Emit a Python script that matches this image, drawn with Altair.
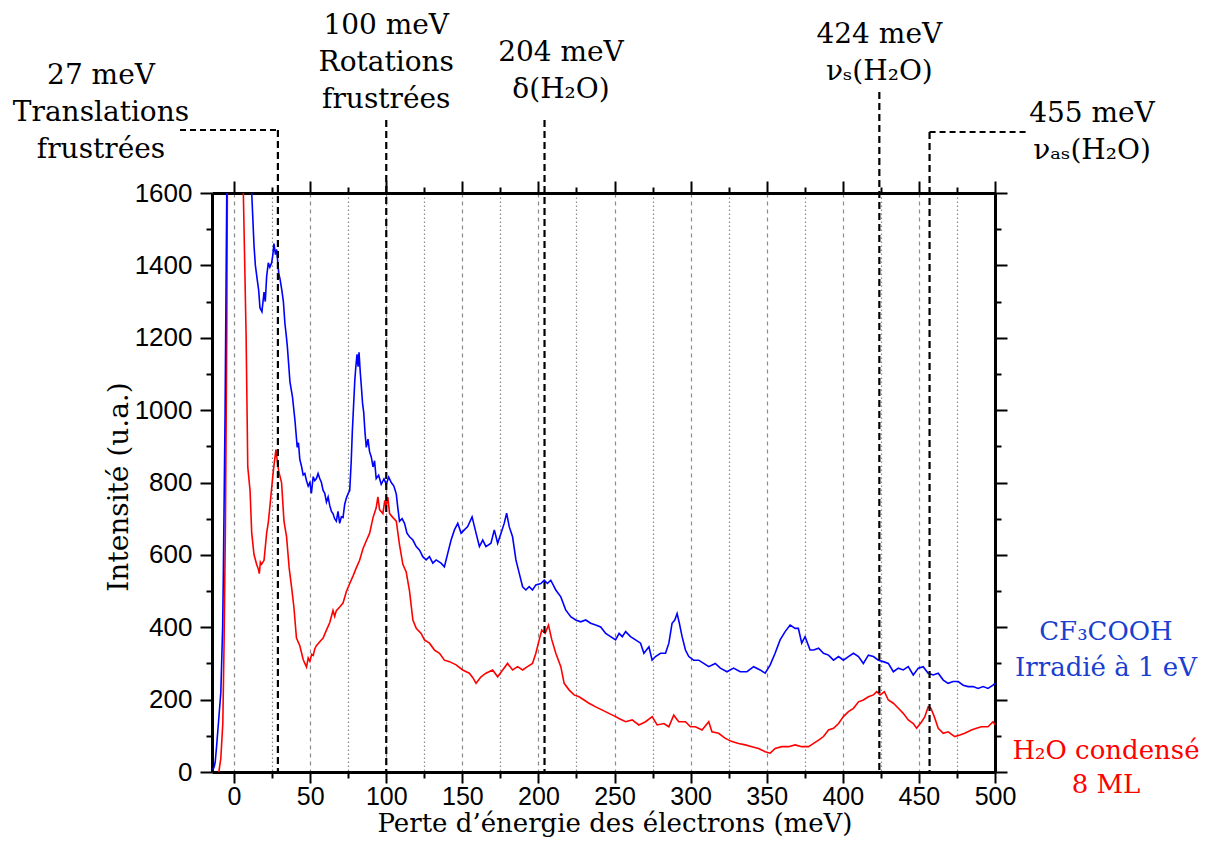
import altair as alt
import pandas as pd

# ---------------- data ----------------
# CF3COOH irradiated at 1 eV (blue) : rising edge of elastic peak, then loss spectrum
blue_rise_E = [-14, -13, -12.4, -11.5, -10.3, -8.7, -7.5, -7, -5.9, -4.8]
blue_rise_I = [5, 15, 27, 70, 134, 220, 400, 564, 993, 1600]

blue_E = [11.6, 13.1, 14, 15.3, 16.2, 17, 18.3, 19.7, 20.5, 21.4, 22.5, 23.5, 24.7, 25.5, 26.2, 27.2, 28,
          29.3, 30.3, 31.4, 32.4, 33.4, 34.2, 35, 36, 36.7, 38.4, 40, 41.5, 42.3, 43.2, 44.3, 45.4, 46.5,
          47.6, 48.7, 49.8, 50.8, 52, 53, 54.1, 55.2, 56.3, 57.4, 58.5, 59.6, 60.7, 61.8, 62.9, 64, 65,
          66.1, 67.2, 68.3, 69.4, 70.5, 71.6, 72.7, 73.8, 75, 76, 77, 77.7, 78.5, 79.3, 80, 80.8, 81.5,
          82.1, 83, 83.6, 84.4, 85.2, 86, 86.9, 88, 89, 90.2, 91.3, 92.3, 93.4, 95, 96.7, 98.5, 100,
          101.6, 103.3, 105, 106.6, 107.6, 108.7, 110.4, 112, 113.6, 115.3, 117.5, 119.7, 121.9, 124,
          126.2, 128.4, 130.6, 132.8, 136, 138.2, 140.4, 142.6, 144.8, 147, 149.2, 151.3, 153.5, 156.4,
          159, 161.2, 163.4, 165.5, 168.8, 171, 173.2, 175.4, 177.5, 179.1, 180.8, 183, 185.2, 187.4,
          189.6, 191.7, 193.9, 196.1, 198.3, 201.6, 203.8, 205.9, 208.1, 211.4, 214.7, 217.9, 221.2,
          224.5, 227.8, 231.1, 234.3, 237.6, 240.9, 244.2, 247.4, 250.7, 253, 255.1, 257.3, 260.5,
          263.8, 267.1, 269.3, 272.6, 274.7, 276.9, 280.2, 283.5, 285.7, 287.8, 289.6, 291.1, 292.6,
          294.4, 296.6, 298.8, 302, 305.3, 308.6, 311.9, 316.2, 319.5, 323.9, 328.2, 332.6, 337,
          341.4, 345.7, 349, 352.3, 355.5, 358.8, 362.1, 365.4, 368.7, 370.8, 373, 375.2, 378.5,
          380.8, 384.1, 387.3, 390.6, 393.9, 397.2, 400.4, 403.7, 407, 410.3, 413.5, 416.8, 420.1,
          423.4, 426.6, 429.9, 433.2, 436.5, 439.7, 443, 446.3, 449.6, 452.8, 456.1, 459.4, 462.7,
          466, 469.2, 472.5, 475.8, 479.1, 482.3, 485.6, 488.9, 492.2, 495.4, 498.7, 500]
blue_I = [1600, 1455, 1400, 1358, 1330, 1283, 1272, 1326, 1300, 1369, 1407, 1395, 1407, 1430, 1460, 1430, 1444,
          1380, 1360, 1331, 1300, 1240, 1210, 1176, 1120, 1079, 1036, 972, 897, 910, 864, 845, 821, 825,
          805, 790, 800, 770, 816, 805, 811, 825, 811, 800, 778, 770, 746, 760, 736, 720, 714,
          700, 693, 720, 687, 705, 703, 740, 757, 770, 778, 860, 940, 1010, 1079, 1120, 1154, 1120,
          1160, 1100, 1068, 1020, 993, 940, 897, 920, 886, 870, 843, 860, 811, 820, 795, 810, 795,
          815, 800, 790, 768, 730, 693, 700, 687, 660, 650, 641, 623, 613, 595,
          586, 595, 577, 586, 577, 567, 604, 641, 669, 687, 660, 669, 678, 705,
          660, 623, 641, 623, 632, 669, 632, 660, 687, 715, 678, 650, 586, 549,
          512, 503, 512, 503, 517, 521, 530, 521, 530, 503, 484, 448, 429,
          420, 415, 420, 411, 406, 401, 383, 374, 365, 383, 374, 388, 374,
          365, 356, 328, 346, 309, 319, 328, 328, 356, 411, 420, 438, 411,
          374, 337, 319, 309, 309, 300, 291, 300, 287, 277, 287, 277, 277,
          291, 282, 273, 296, 328, 365, 388, 406, 397, 397, 356, 374, 337,
          337, 342, 328, 323, 309, 319, 309, 319, 328, 319, 300, 323, 319,
          309, 305, 300, 277, 287, 282, 291, 268, 287, 291, 273, 268, 273,
          254, 245, 250, 250, 240, 236, 236, 231, 236, 231, 240, 245]

# condensed water, 8 ML (red)
red_rise_E = [-10, -9.5, -8.7, -7.4, -6.6, -5.7, -4.8, -4.4]
red_rise_I = [0, 15, 38, 134, 349, 671, 1208, 1600]

red_E = [6.1, 7.9, 9, 10.5, 11.6, 13.1, 14.8, 16, 16.6, 17.3, 18.1, 19.7, 21.4, 22.5, 23.6, 25.8, 27.5,
         28.4, 29.3, 30.3, 31.2, 32.8, 34.5, 36.2, 37.8, 39.3, 41, 43.2, 45.4, 46.5, 47.6, 48.7, 49.8,
         51, 52, 53, 54.1, 56.3, 58.5, 60.7, 62.9, 65, 66.1, 67.2, 69.4, 71.6, 73.8, 76, 78.2, 80.3,
         82.5, 84.7, 86.9, 89.1, 91.3, 93.4, 94.5, 95.6, 97.8, 99, 100, 101, 102.2, 104.4, 106.6,
         108.7, 110.9, 113.1, 115.3, 117.5, 119.7, 122.9, 125.1, 128.4, 131.7, 135, 138.2, 141.5,
         145.9, 150.2, 154.6, 157, 159, 162.3, 165.5, 169.9, 173.2, 176.5, 179.7, 183, 186.3, 189.6,
         192.8, 196.1, 198.3, 200.5, 202.2, 204.4, 206.6, 208.8, 211.4, 214.7, 216.9, 220.1, 223.4,
         226.7, 230, 233.2, 237.6, 242, 246.3, 250.7, 252.9, 257.3, 261.6, 266, 270.4, 274.7, 278,
         282.4, 285.7, 288.9, 292.2, 296.6, 299.9, 303.1, 307.5, 311.9, 314, 318.4, 322.8, 327.2,
         331.5, 335.9, 340.3, 344.6, 349, 352.3, 355.5, 359.9, 364.3, 368.7, 373, 377.5, 380.8,
         384.1, 387.3, 390.6, 393.9, 397.2, 400.4, 403.7, 407, 410.3, 413.5, 416.8, 420.1, 422.3,
         424.5, 427.3, 429.9, 433.2, 436.5, 439.7, 443, 446.3, 448.5, 451.8, 453.9, 456.1, 457.9,
         460.1, 462.7, 466, 469.2, 473.6, 476.9, 480.1, 484.5, 487.8, 491.1, 495.4, 498.7, 500]
red_I = [1600, 1208, 843, 778, 660, 601, 574, 560, 548, 580, 574, 585, 660, 690, 736, 832, 891,
         860, 832, 815, 800, 693, 650, 564, 510, 456, 370, 349, 311, 300, 290, 315, 306,
         325, 322, 340, 349, 360, 370, 392, 413, 446, 430, 446, 456, 467, 499, 521, 542, 564,
         585, 617, 639, 660, 703, 730, 760, 725, 714, 750, 736, 760, 714, 703, 693,
         628, 574, 553, 500, 420, 397, 383, 365, 356, 337, 328, 309, 305,
         296, 282, 273, 260, 245, 263, 273, 282, 263, 282, 300, 282, 291, 282,
         291, 300, 328, 365, 392, 383, 406, 365, 328, 291, 245, 227, 213,
         208, 199, 190, 180, 171, 162, 153, 148, 139, 144, 130, 139, 153, 130,
         134, 125, 157, 139, 139, 125, 125, 116, 139, 111, 107, 93, 84,
         79, 75, 70, 65, 56, 52, 65, 70, 70, 75, 70, 70, 79,
         88, 98, 116, 121, 134, 153, 167, 176, 194, 199, 208, 213, 222,
         213, 222, 199, 190, 176, 162, 144, 134, 121, 139, 153, 180, 176,
         153, 121, 107, 111, 98, 102, 107, 116, 121, 125, 125, 139, 130]

# vibrational assignments
mode_E = [28.8, 100, 204, 424, 457]
ann_lines = ["27 meV", "Translations", "frustrées",
             "100 meV", "Rotations", "frustrées",
             "204 meV", "δ(H₂O)",
             "424 meV", "νₛ(H₂O)",
             "455 meV", "νₐₛ(H₂O)"]
series_labels = ["CF₃COOH", "Irradié à 1 eV", "H₂O condensé", "8 ML"]
series_colors = ["#1a3fd0", "#1a3fd0", "#ff0000", "#ff0000"]

x_ticks = list(range(0, 501, 25))
y_ticks = list(range(0, 1601, 100))

# ---------------- layout helpers ----------------
W, H = 783, 579
PX_PER_MEV = W / 514.5
TOP = 193  # page y of the plot's top edge


def rel(page_y):
    return page_y - TOP


def mev(page_x):
    return (page_x - 212) / PX_PER_MEV - 14.5


rows = []
for name, seg, xs, ys in [("red", "r0", red_rise_E, red_rise_I), ("red", "r1", red_E, red_I),
                          ("blue", "b0", blue_rise_E, blue_rise_I), ("blue", "b1", blue_E, blue_I)]:
    for e, i in zip(xs, ys):
        rows.append({"serie": name, "seg": seg, "E": e, "I": i})
df = pd.DataFrame(rows)

xscale = alt.Scale(domain=[-14.5, 500], nice=False, zero=False)
yscale = alt.Scale(domain=[0, 1600], nice=False, zero=False)

cond50 = "datum.value % 50 === 0"
cond200 = "datum.value % 200 === 0"
common_axis = dict(tickWidth=2, tickColor="black", domainColor="black", domainWidth=3,
                   labelFont="Liberation Sans", labelColor="black",
                   labelFlush=False, labelOverlap=False, title=None, format="d")

x_bottom = alt.Axis(orient="bottom", values=x_ticks, labelExpr=f"{cond50} ? datum.label : ''",
                    tickSize={"condition": {"test": cond50, "value": 11}, "value": 6},
                    grid=True, gridColor="#8a8a8a", gridWidth=1.2,
                    gridDash={"condition": {"test": cond50, "value": [4, 4]}, "value": [1.5, 2.5]},
                    labelPadding=1, labelFontSize=25, **common_axis)
y_left = alt.Axis(orient="left", values=y_ticks, labelExpr=f"{cond200} ? datum.label : ''",
                  tickSize={"condition": {"test": cond200, "value": 12}, "value": 6},
                  grid=False, labelPadding=8, labelFontSize=26, **common_axis)
x_top = alt.Axis(orient="top", values=x_ticks, labels=False, grid=False,
                 tickSize={"condition": {"test": cond50, "value": 12}, "value": 6}, **common_axis)
y_right = alt.Axis(orient="right", values=y_ticks, labels=False, grid=False,
                   tickSize={"condition": {"test": cond200, "value": 12}, "value": 6}, **common_axis)

base = alt.Chart(df)

red = base.transform_filter("datum.serie == 'red'").mark_line(
    color="#ff0000", strokeWidth=1.6, clip=True).encode(
    x=alt.X("E:Q", scale=xscale, axis=x_bottom),
    y=alt.Y("I:Q", scale=yscale, axis=y_left),
    detail="seg:N", order="E:Q")

blue = base.transform_filter("datum.serie == 'blue'").mark_line(
    color="#0000ff", strokeWidth=1.6, clip=True).encode(
    x=alt.X("E:Q", scale=xscale, axis=None),
    y=alt.Y("I:Q", scale=yscale, axis=None),
    detail="seg:N", order="E:Q")

frame = base.mark_line(strokeOpacity=0).encode(
    x=alt.X("E:Q", scale=xscale, axis=x_top),
    y=alt.Y("I:Q", scale=yscale, axis=y_right),
    detail="seg:N")

# dashed guide lines for the modes
vtop = [rel(130), rel(120), rel(120), rel(92), rel(132)]
vdf = pd.DataFrame({"E": mode_E, "ytop": vtop, "ybot": [H] * len(mode_E)})
vrules = alt.Chart(vdf).mark_rule(color="black", strokeWidth=2.2, strokeDash=[7, 4]).encode(
    x=alt.X("E:Q", scale=xscale, axis=None),
    y=alt.Y("ytop:Q", scale=None, axis=None),
    y2="ybot:Q")

hdf = pd.DataFrame({"E": [mev(180), mode_E[4]], "E2": [mode_E[0], mev(1028)],
                    "y": [rel(130), rel(132)]})
hrules = alt.Chart(hdf).mark_rule(color="black", strokeWidth=2, strokeDash=[6, 4]).encode(
    x=alt.X("E:Q", scale=xscale, axis=None), x2="E2:Q",
    y=alt.Y("y:Q", scale=None, axis=None))

ann_x = [mev(101)] * 3 + [100] * 3 + [mev(561)] * 2 + [424] * 2 + [mev(1092)] * 2
ann_base = [84, 121, 158, 34, 71, 108, 61, 98, 43, 80, 122, 159]
adf = pd.DataFrame({"E": ann_x, "y": [rel(b) for b in ann_base], "t": ann_lines})
ann = alt.Chart(adf).mark_text(font="DejaVu Serif", fontSize=28, color="black",
                               align="center", baseline="alphabetic").encode(
    x=alt.X("E:Q", scale=xscale, axis=None),
    y=alt.Y("y:Q", scale=None, axis=None),
    text="t:N")

sdf = pd.DataFrame({"E": [mev(1106)] * 4, "y": [rel(b) for b in [640, 676, 759, 793]],
                    "t": series_labels, "c": series_colors})
slab = alt.Chart(sdf).mark_text(font="DejaVu Serif", fontSize=26, align="center",
                                baseline="alphabetic").encode(
    x=alt.X("E:Q", scale=xscale, axis=None),
    y=alt.Y("y:Q", scale=None, axis=None),
    text="t:N",
    color=alt.Color("c:N", scale=None, legend=None))

tdf = pd.DataFrame({"E": [mev(615)], "y": [rel(832)], "t": ["Perte d’énergie des électrons (meV)"]})
xtitle = alt.Chart(tdf).mark_text(font="DejaVu Serif", fontSize=26, color="black",
                                  align="center", baseline="alphabetic").encode(
    x=alt.X("E:Q", scale=xscale, axis=None),
    y=alt.Y("y:Q", scale=None, axis=None),
    text="t:N")

ytitle = alt.Chart(pd.DataFrame({"t": ["Intensité (u.a.)"]})).mark_text(
    font="DejaVu Serif", fontSize=28, color="black", align="center",
    baseline="alphabetic", angle=270).encode(
    x=alt.value(128 - 212), y=alt.value(rel(487)), text="t:N")

chart = alt.layer(red, blue, frame, vrules, hrules, ann, slab, xtitle, ytitle).resolve_axis(
    x="independent", y="independent").properties(
    width=W, height=H,
    autosize=alt.AutoSizeParams(type="none"),
    padding={"left": 204, "top": 185, "right": 209, "bottom": 66},
    background="white",
).configure_view(stroke=None)

chart.save("out.html", embed_options={"renderer": "svg", "actions": False})
